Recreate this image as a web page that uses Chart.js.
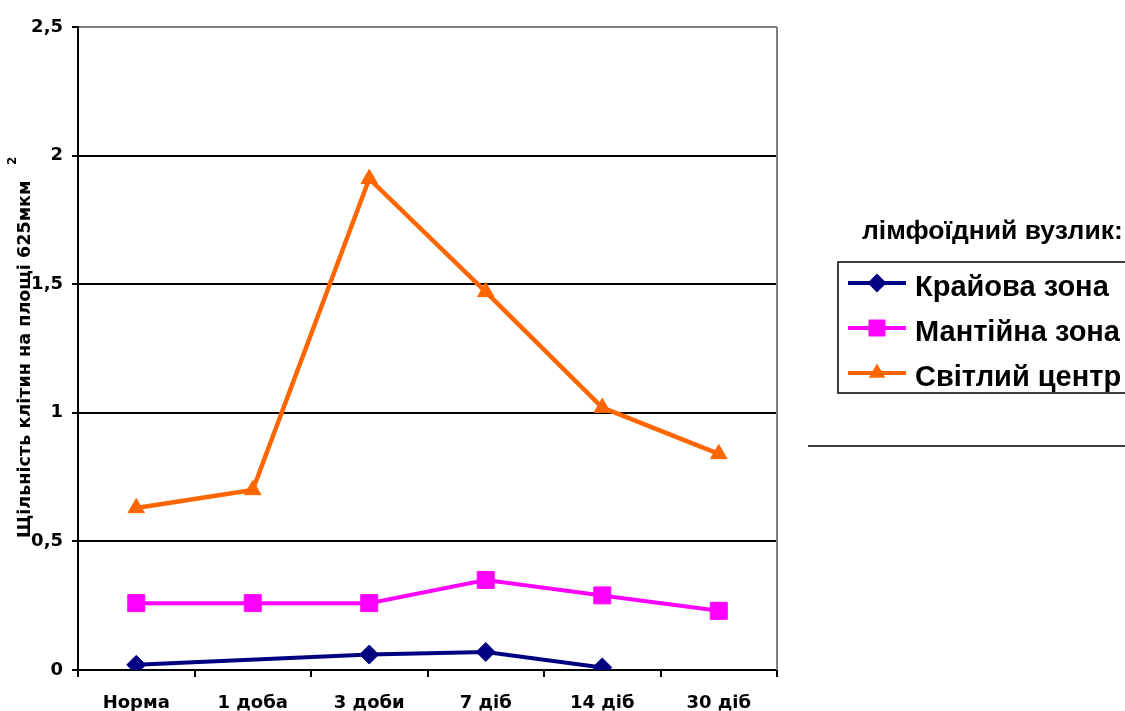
<!DOCTYPE html>
<html>
<head>
<meta charset="utf-8">
<script src="https://cdn.jsdelivr.net/npm/chart.js@4/dist/chart.umd.min.js"></script>
<style>
  html, body { margin: 0; padding: 0; background: #fff; }
  #wrap { width: 1125px; height: 711px; }
</style>
</head>
<body>
<div id="wrap"><canvas id="c" width="1125" height="711"></canvas></div>
<script>
// Categories (time points)
const categories = ['Норма', '1 доба', '3 доби', '7 діб', '14 діб', '30 діб'];

// Cell density per zone
const krayovaZona = [0.02, null, 0.06, 0.07, 0.01, null];
const mantiynaZona = [0.26, 0.26, 0.26, 0.35, 0.29, 0.23];
const svitlyiTsentr = [0.63, 0.70, 1.91, 1.47, 1.02, 0.84];

// Y axis tick values
const yTickValues = [0, 0.5, 1, 1.5, 2, 2.5];

const seriesNames = ['Крайова зона', 'Мантійна зона', 'Світлий центр'];
const legendTitle = 'лімфоїдний вузлик:';
const axisTitle = 'Щільність клітин на площі 625мкм';
const axisTitleSup = '2';

const AXIS_FONT = '"DejaVu Sans"';
const LEGEND_FONT = '"Liberation Sans", Arial, sans-serif';

Chart.defaults.font.family = AXIS_FONT;
Chart.defaults.font.size = 18;
Chart.defaults.font.weight = 'bold';
Chart.defaults.color = '#000';

function markerPath(ctx, style, x, y, r) {
  ctx.beginPath();
  if (style === 'rectRot') {
    ctx.moveTo(x, y - r); ctx.lineTo(x + r, y); ctx.lineTo(x, y + r); ctx.lineTo(x - r, y);
  } else if (style === 'rect') {
    const h = r * Math.SQRT1_2;
    ctx.rect(x - h, y - h, 2 * h, 2 * h);
  } else {
    const a = Math.PI * 2 / 3;
    ctx.moveTo(x, y - r);
    ctx.lineTo(x + r * Math.sin(a), y - r * Math.cos(a));
    ctx.lineTo(x - r * Math.sin(a), y - r * Math.cos(a));
  }
  ctx.closePath();
}

// Frame, rotated axis title and the side legend
const decorations = {
  id: 'decorations',
  afterDraw(chart) {
    const { ctx, chartArea } = chart;
    ctx.save();
    // right frame edge
    ctx.strokeStyle = '#808080';
    ctx.lineWidth = 2;
    ctx.beginPath();
    ctx.moveTo(chartArea.right, chartArea.top);
    ctx.lineTo(chartArea.right, chartArea.bottom);
    ctx.stroke();

    // y axis title with superscript
    ctx.fillStyle = '#000';
    ctx.save();
    ctx.translate(30, 538);
    ctx.rotate(-Math.PI / 2);
    ctx.font = 'bold 17.6px ' + AXIS_FONT;
    ctx.textAlign = 'left';
    ctx.textBaseline = 'alphabetic';
    ctx.fillText(axisTitle, 0, 0);
    ctx.restore();
    ctx.save();
    ctx.translate(16, 165);
    ctx.rotate(-Math.PI / 2);
    ctx.font = 'bold 12px ' + AXIS_FONT;
    ctx.fillText(axisTitleSup, 0, 0);
    ctx.restore();

    // legend
    ctx.font = 'bold 26.5px ' + LEGEND_FONT;
    ctx.textAlign = 'left';
    ctx.textBaseline = 'alphabetic';
    ctx.fillText(legendTitle, 862, 239);

    ctx.strokeStyle = '#000';
    ctx.lineWidth = 1.5;
    ctx.strokeRect(838, 262, 320, 131);

    ctx.font = 'bold 29px ' + LEGEND_FONT;
    chart.data.datasets.forEach((ds, i) => {
      const cy = 283 + i * 45;
      ctx.strokeStyle = ds.borderColor;
      ctx.lineWidth = 4;
      ctx.beginPath();
      ctx.moveTo(848, cy);
      ctx.lineTo(906, cy);
      ctx.stroke();
      ctx.fillStyle = ds.pointBackgroundColor;
      markerPath(ctx, ds.pointStyle, 877, cy, ds.pointRadius);
      ctx.fill();
      ctx.fillStyle = '#000';
      ctx.fillText(ds.label, 915, cy + 12.5);
    });

    // rule under the legend
    ctx.strokeStyle = '#000';
    ctx.lineWidth = 1.5;
    ctx.beginPath();
    ctx.moveTo(808, 446);
    ctx.lineTo(1125, 446);
    ctx.stroke();
    ctx.restore();
  }
};

const spannedWidth = c => (c.p1DataIndex - c.p0DataIndex > 1 ? 3 : 4);
const spannedColor = c => (c.p1DataIndex - c.p0DataIndex > 1 ? '#3a3a98' : '#000080');

new Chart(document.getElementById('c'), {
  type: 'line',
  data: {
    labels: categories,
    datasets: [
      {
        label: seriesNames[0],
        data: krayovaZona,
        borderColor: '#000080',
        backgroundColor: '#000080',
        pointBackgroundColor: '#000080',
        pointBorderColor: '#000080',
        pointStyle: 'rectRot',
        pointRadius: 9.5,
        pointBorderWidth: 1,
        borderWidth: 4,
        spanGaps: true,
        segment: { borderWidth: spannedWidth, borderColor: spannedColor }
      },
      {
        label: seriesNames[1],
        data: mantiynaZona,
        borderColor: '#ff00ff',
        backgroundColor: '#ff00ff',
        pointBackgroundColor: '#ff00ff',
        pointBorderColor: '#ff00ff',
        pointStyle: 'rect',
        pointRadius: 12,
        pointBorderWidth: 1,
        borderWidth: 4
      },
      {
        label: seriesNames[2],
        data: svitlyiTsentr,
        borderColor: '#ff6600',
        backgroundColor: '#ff6600',
        pointBackgroundColor: '#ff6600',
        pointBorderColor: '#ff6600',
        pointStyle: 'triangle',
        pointRadius: 9.5,
        pointBorderWidth: 1,
        borderWidth: 4.5
      }
    ]
  },
  options: {
    responsive: false,
    animation: false,
    events: [],
    layout: { padding: { left: 0, top: 27, right: 348, bottom: 0 } },
    plugins: {
      legend: { display: false },
      tooltip: { enabled: false }
    },
    elements: { line: { tension: 0 } },
    scales: {
      x: {
        type: 'category',
        offset: true,
        afterFit: s => { s.height = 41; },
        grid: {
          offset: true,
          drawOnChartArea: false,
          drawTicks: true,
          tickLength: 7,
          color: '#000',
          lineWidth: 2
        },
        border: { color: '#000', width: 2 },
        ticks: { padding: 16, maxRotation: 0, autoSkip: false }
      },
      y: {
        min: 0,
        max: 2.5,
        afterFit: s => { s.width = 78; },
        afterBuildTicks: s => { s.ticks = yTickValues.map(v => ({ value: v })); },
        grid: {
          color: c => (c.tick && c.tick.value === 2.5 ? '#808080' : '#000'),
          tickColor: '#000',
          lineWidth: 2,
          tickLength: 6
        },
        border: { color: '#000', width: 2 },
        ticks: {
          padding: 9,
          callback: v => String(v).replace('.', ',')
        }
      }
    }
  },
  plugins: [decorations]
});
</script>
</body>
</html>
